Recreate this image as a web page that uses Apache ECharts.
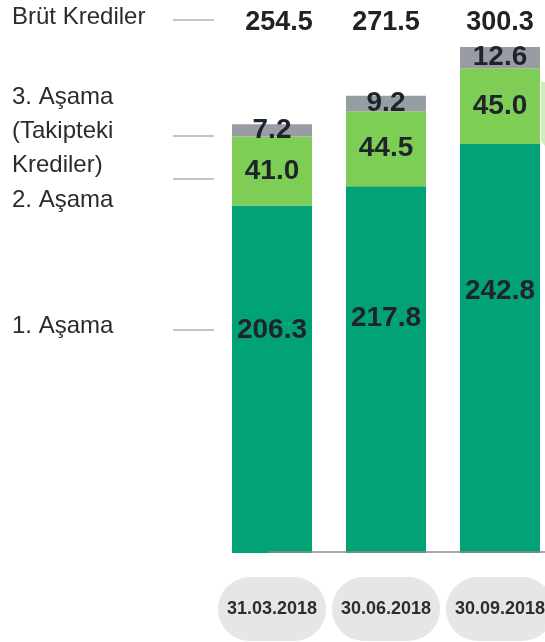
<!DOCTYPE html>
<html>
<head>
<meta charset="utf-8">
<script src="https://cdn.jsdelivr.net/npm/echarts@6/dist/echarts.min.js"></script>
<style>
  html, body { margin: 0; padding: 0; background: #fff; }
  #chart { width: 545px; height: 642px; }
</style>
</head>
<body>
<div id="chart"></div>
<script>
// veriler (milyar TL)
var categories = ['31.03.2018', '30.06.2018', '30.09.2018'];
var stage1 = [206.3, 217.8, 242.8];   // 1. Aşama
var stage2 = [41.0, 44.5, 45.0];      // 2. Aşama
var stage3 = [7.2, 9.2, 12.6];        // 3. Aşama (Takipteki Krediler)
var totals = [254.5, 271.5, 300.3];   // Brüt Krediler

var numFont = "'Liberation Sans', Arial, sans-serif";
var txtFont = "'Liberation Sans', Arial, sans-serif";
var numColor = '#1f232b';

var myChart = echarts.init(document.getElementById('chart'));

function fmt(p) {
    return p.value.toFixed(1);
}

var numLabel = {
    show: true,
    position: 'inside',
    formatter: fmt,
    fontFamily: numFont,
    fontWeight: 'bold',
    fontSize: 28,
    color: numColor
};

// sol taraftaki açıklamalar
var sideTexts = [
    { text: 'Brüt Krediler', y: 17 },
    { text: '3. Aşama', y: 97 },
    { text: '(Takipteki', y: 131 },
    { text: 'Krediler)', y: 165 },
    { text: '2. Aşama', y: 200 },
    { text: '1. Aşama', y: 326 }
];
var sideLines = [20, 136, 179, 330];

var graphics = [];
sideTexts.forEach(function (t) {
    graphics.push({
        type: 'text',
        x: 12,
        y: t.y,
        style: {
            text: t.text,
            font: '24px ' + txtFont,
            fill: '#2b2b2b',
            align: 'left',
            textAlign: 'left',
            verticalAlign: 'middle',
            textVerticalAlign: 'middle'
        }
    });
});
sideLines.forEach(function (y) {
    graphics.push({
        type: 'line',
        shape: { x1: 173, y1: y, x2: 214, y2: y },
        style: { stroke: '#8c8c8c', lineWidth: 1.2 }
    });
});
// alt çizgi
graphics.push({
    type: 'line',
    z: 100,
    shape: { x1: 269, y1: 552, x2: 545, y2: 552 },
    style: { stroke: '#8a8a8a', lineWidth: 1.5 }
});
// sağ kenardaki kesik şekil
graphics.push({
    type: 'polygon',
    shape: { points: [[541, 82], [545, 82], [545, 146], [541, 141]] },
    style: { fill: '#cdeebc' }
});

// üstteki toplamlar (ilk etiket biraz sağda)
var topData = categories.map(function (c, i) {
    return i === 0 ? { value: c, textStyle: { padding: [0, 0, 0, 14] } } : c;
});

var option = {
    animation: false,
    grid: {
        left: 215,
        right: -12,
        top: 14,
        bottom: 89,
        containLabel: false,
        outerBoundsMode: 'none'
    },
    xAxis: [{
        type: 'category',
        data: categories,
        axisLine: { show: false },
        axisTick: { show: false },
        axisLabel: {
            interval: 0,
            margin: 24,
            fontFamily: numFont,
            fontWeight: 'bold',
            fontSize: 18,
            color: '#2a2d33',
            backgroundColor: '#e6e6e6',
            borderRadius: 32,
            padding: [23, 9, 23, 9]
        }
    }, {
        type: 'category',
        position: 'top',
        offset: -30,
        data: topData,
        axisLine: { show: false },
        axisTick: { show: false },
        axisLabel: {
            interval: 0,
            margin: 8,
            formatter: function (v, i) {
                return totals[i].toFixed(1);
            },
            fontFamily: numFont,
            fontWeight: 'bold',
            fontSize: 27,
            color: '#222222'
        }
    }],
    yAxis: {
        type: 'value',
        min: 0,
        max: 320,
        show: false,
        splitLine: { show: false }
    },
    series: [{
        name: '1. Aşama',
        type: 'bar',
        stack: 'krediler',
        barWidth: 80,
        data: stage1,
        itemStyle: { color: '#00a276' },
        label: Object.assign({}, numLabel, {
            position: ['50%', '36%'],
            align: 'center',
            verticalAlign: 'middle'
        })
    }, {
        name: '2. Aşama',
        type: 'bar',
        stack: 'krediler',
        barWidth: 80,
        data: stage2,
        itemStyle: { color: '#7ecd54' },
        label: numLabel
    }, {
        name: '3. Aşama',
        type: 'bar',
        stack: 'krediler',
        barWidth: 80,
        data: stage3,
        itemStyle: { color: '#989da4' },
        label: numLabel
    }],
    graphic: graphics
};

myChart.setOption(option);
</script>
</body>
</html>
